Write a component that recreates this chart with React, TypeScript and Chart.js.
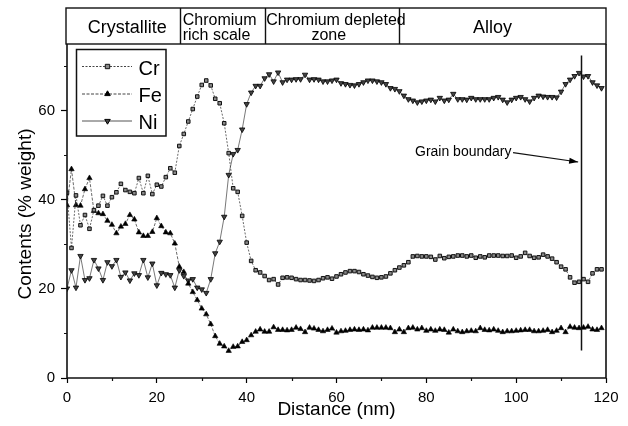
import React, { useEffect, useRef } from 'react';
import { Chart, registerables } from 'chart.js';

Chart.register(...registerables);

// ---------- data ----------
const distance: number[] = Array.from({ length: 120 }, (_, i) => i);

const cr: number[] = [
  41.6, 29.2, 41.0, 34.3, 36.6, 33.5, 37.7, 38.7, 40.9, 38.7,
  40.6, 41.7, 43.6, 42.2, 41.8, 41.5, 44.9, 41.5, 45.4, 41.3,
  43.4, 43.0, 45.1, 47.1, 46.1, 52.1, 54.8, 57.6, 60.4, 63.2,
  65.8, 66.8, 65.7, 62.7, 61.7, 57.2, 50.5, 42.6, 41.8, 36.4,
  30.4, 26.3, 24.2, 23.7, 22.9, 22.0, 22.2, 21.0, 22.5, 22.6,
  22.5, 22.2, 22.0, 22.0, 21.9, 21.8, 22.0, 22.4, 22.6, 22.3,
  22.8, 23.3, 23.7, 24.0, 24.0, 23.8, 23.3, 23.0, 22.7, 22.5,
  22.6, 22.8, 23.5, 24.2, 24.8, 25.3, 26.0, 27.3, 27.4, 27.3,
  27.3, 27.2, 26.6, 27.4, 26.9, 27.2, 27.3, 27.5, 27.5, 27.3,
  27.5, 27.0, 27.3, 27.1, 27.5, 27.5, 27.5, 27.4, 27.4, 27.5,
  27.0, 27.3, 28.1, 27.4, 27.0, 27.1, 27.7, 27.3, 26.8, 26.0,
  25.0, 24.4, 22.6, 21.4, 21.6, 22.2, 21.6, 23.5, 24.4, 24.4,
];

const fe: number[] = [
  38.8, 46.9, 38.8, 38.7, 42.4, 44.9, 37.5, 37.0, 36.8, 35.3,
  34.4, 32.5, 34.0, 34.6, 36.6, 35.6, 32.7, 31.9, 31.9, 32.8,
  35.9, 34.1, 32.7, 32.5, 30.2, 25.0, 23.8, 21.2, 19.3, 17.5,
  15.6, 14.3, 12.1, 9.4, 7.7, 7.1, 6.1, 7.0, 7.1, 8.1,
  8.5, 9.6, 10.4, 10.9, 10.4, 10.4, 11.4, 10.8, 10.8, 10.7,
  10.8, 11.3, 11.0, 10.3, 11.3, 11.1, 10.8, 10.5, 10.8, 11.1,
  10.2, 10.5, 10.6, 10.8, 10.9, 10.8, 10.9, 10.7, 11.3, 11.3,
  11.3, 11.3, 11.2, 10.3, 10.9, 10.3, 11.2, 11.3, 10.9, 11.2,
  10.6, 10.9, 10.6, 10.9, 10.8, 10.2, 10.9, 10.5, 10.3, 10.5,
  10.6, 10.5, 11.2, 10.8, 10.7, 10.9, 10.6, 10.3, 10.5, 10.5,
  10.6, 10.7, 10.8, 10.8, 10.5, 10.5, 10.6, 10.8, 10.3, 10.6,
  11.2, 10.3, 11.5, 11.3, 11.2, 11.3, 11.5, 10.9, 10.8, 11.2,
];

const ni: number[] = [
  20.1, 24.2, 20.3, 27.4, 22.0, 22.4, 26.5, 24.6, 22.0, 26.0,
  25.1, 26.5, 22.7, 23.7, 21.9, 23.5, 23.1, 26.5, 22.6, 25.7,
  20.8, 23.6, 23.3, 23.1, 20.3, 24.2, 22.9, 21.9, 22.2, 20.3,
  19.9, 19.1, 22.2, 28.0, 30.6, 36.2, 45.6, 50.3, 51.2, 55.8,
  61.5, 64.1, 65.6, 65.6, 67.3, 68.2, 66.6, 68.6, 66.4, 67.0,
  67.0, 67.1, 67.1, 68.1, 67.0, 67.1, 67.0, 66.6, 66.6, 66.8,
  67.0, 66.2, 66.0, 65.8, 65.7, 66.0, 66.4, 66.8, 66.8, 66.6,
  66.4, 66.0, 65.1, 64.9, 64.4, 63.4, 62.6, 62.3, 61.9, 62.1,
  62.3, 62.5, 62.1, 62.9, 62.3, 62.5, 63.8, 62.6, 62.6, 62.5,
  62.9, 62.6, 62.6, 62.6, 62.6, 62.9, 63.1, 62.5, 61.9, 62.5,
  62.9, 63.1, 62.6, 62.1, 62.9, 63.4, 63.2, 63.1, 63.1, 63.0,
  64.3, 66.0, 67.0, 67.8, 68.5, 67.7, 67.8, 66.4, 65.7, 65.1,
];

const xMajorTicks = [0, 20, 40, 60, 80, 100, 120];
const xMinorTicks = [10, 30, 50, 70, 90, 110];
const yMajorTicks = [0, 20, 40, 60];
const yMinorTicks = [10, 30, 50, 70];

// header regions (boundaries in nm)
const regionBounds = [25.1, 44.0, 73.9];
const regionNames = ['Crystallite', 'Chromium rich scale', 'Chromium depleted zone', 'Alloy'];

const grainBoundaryX = 114.4;
const grainBoundaryY = [6.2, 72.4];
const arrowFrom = [99.3, 50.6];
const arrowTo = [113.8, 48.5];

const FONT = '"Liberation Sans", Arial, Helvetica, sans-serif';

const decorPlugin = {
  id: 'decor',
  beforeDraw(chart: any) {
    const ctx = chart.ctx;
    ctx.save();
    ctx.fillStyle = '#fff';
    ctx.fillRect(0, 0, chart.width, chart.height);
    ctx.restore();
  },
  afterDraw(chart: any) {
    const ctx = chart.ctx as CanvasRenderingContext2D;
    const { left, right, top, bottom } = chart.chartArea;
    const xs = chart.scales.x;
    const ys = chart.scales.y;
    ctx.save();
    ctx.strokeStyle = '#111';
    ctx.fillStyle = '#000';

    // frame
    ctx.lineWidth = 1.6;
    ctx.beginPath();
    ctx.moveTo(left, top);
    ctx.lineTo(left, bottom);
    ctx.lineTo(right, bottom);
    ctx.lineTo(right, top);
    ctx.stroke();

    // minor ticks
    ctx.lineWidth = 1.2;
    ctx.beginPath();
    xMinorTicks.forEach((v) => {
      const px = Math.round(xs.getPixelForValue(v)) + 0.5;
      ctx.moveTo(px, bottom);
      ctx.lineTo(px, bottom + 3);
    });
    yMinorTicks.forEach((v) => {
      const py = Math.round(ys.getPixelForValue(v)) + 0.5;
      ctx.moveTo(left, py);
      ctx.lineTo(left - 3, py);
    });
    ctx.stroke();

    // header band
    const hTop = 8;
    ctx.lineWidth = 1.4;
    ctx.strokeRect(left - 1, hTop, right - left + 1, top - hTop);
    ctx.beginPath();
    regionBounds.forEach((v) => {
      const px = Math.round(xs.getPixelForValue(v)) + 0.5;
      ctx.moveTo(px, hTop);
      ctx.lineTo(px, top);
    });
    ctx.stroke();

    const b0 = xs.getPixelForValue(regionBounds[0]);
    const b1 = xs.getPixelForValue(regionBounds[1]);
    const b2 = xs.getPixelForValue(regionBounds[2]);

    ctx.textBaseline = 'alphabetic';
    ctx.font = `18px ${FONT}`;
    ctx.textAlign = 'center';
    ctx.fillText(regionNames[0], (left + b0) / 2 + 4, 33);
    ctx.fillText(regionNames[3], (b2 + right) / 2 - 10, 33);

    ctx.font = `16px ${FONT}`;
    ctx.textAlign = 'left';
    const rich = regionNames[1].split(' ');
    ctx.fillText(rich[0], b0 + 3, 25);
    ctx.fillText(rich.slice(1).join(' '), b0 + 3, 40);
    const dep = regionNames[2].split(' ');
    ctx.fillText(dep.slice(0, 2).join(' '), b1 + 1.5, 25);
    ctx.textAlign = 'center';
    ctx.fillText(dep[2], (b1 + b2) / 2 - 3, 40);

    // legend box
    ctx.lineWidth = 1.5;
    ctx.fillStyle = '#fff';
    ctx.fillRect(76, 49, 90, 87);
    ctx.strokeRect(76.5, 49.5, 89.5, 86.5);
    const entries = chart.data.datasets;
    const rowsY = [66.5, 94, 121];
    entries.forEach((ds: any, i: number) => {
      const y = rowsY[i];
      ctx.save();
      ctx.strokeStyle = ds.borderColor;
      ctx.lineWidth = 1;
      ctx.setLineDash(ds.borderDash || []);
      ctx.beginPath();
      ctx.moveTo(82, y);
      ctx.lineTo(132, y);
      ctx.stroke();
      ctx.restore();
      const cx = 107.5;
      ctx.save();
      ctx.fillStyle = ds.pointBackgroundColor;
      ctx.strokeStyle = ds.pointBorderColor;
      ctx.lineWidth = 1;
      ctx.beginPath();
      if (ds.pointStyle === 'rect') {
        ctx.rect(cx - 2.2, y - 2.2, 4.4, 4.4);
      } else {
        const r = 3.2;
        const dir = ds.pointRotation === 180 ? -1 : 1;
        ctx.moveTo(cx, y - dir * r);
        ctx.lineTo(cx + r * 0.866, y + dir * r * 0.5);
        ctx.lineTo(cx - r * 0.866, y + dir * r * 0.5);
        ctx.closePath();
      }
      ctx.fill();
      ctx.stroke();
      ctx.restore();
      ctx.fillStyle = '#000';
      ctx.font = `20px ${FONT}`;
      ctx.textAlign = 'left';
      ctx.fillText(ds.label, 138.5, y + 8);
    });

    // grain boundary line
    ctx.strokeStyle = '#111';
    ctx.lineWidth = 1.5;
    const gx = Math.round(xs.getPixelForValue(grainBoundaryX)) + 0.5;
    ctx.beginPath();
    ctx.moveTo(gx, ys.getPixelForValue(grainBoundaryY[1]));
    ctx.lineTo(gx, ys.getPixelForValue(grainBoundaryY[0]));
    ctx.stroke();

    // arrow
    const ax0 = xs.getPixelForValue(arrowFrom[0]);
    const ay0 = ys.getPixelForValue(arrowFrom[1]);
    const ax1 = xs.getPixelForValue(arrowTo[0]);
    const ay1 = ys.getPixelForValue(arrowTo[1]);
    ctx.lineWidth = 1.1;
    ctx.beginPath();
    ctx.moveTo(ax0, ay0);
    ctx.lineTo(ax1, ay1);
    ctx.stroke();
    const ang = Math.atan2(ay1 - ay0, ax1 - ax0);
    const L = 9, W = 3;
    ctx.beginPath();
    ctx.moveTo(ax1, ay1);
    ctx.lineTo(ax1 - L * Math.cos(ang) + W * Math.sin(ang), ay1 - L * Math.sin(ang) - W * Math.cos(ang));
    ctx.lineTo(ax1 - L * Math.cos(ang) - W * Math.sin(ang), ay1 - L * Math.sin(ang) + W * Math.cos(ang));
    ctx.closePath();
    ctx.fillStyle = '#000';
    ctx.fill();

    ctx.font = `14px ${FONT}`;
    ctx.textAlign = 'left';
    ctx.textBaseline = 'middle';
    ctx.fillText('Grain boundary', 415, 152);

    // axis titles
    ctx.font = `19px ${FONT}`;
    ctx.textAlign = 'center';
    ctx.textBaseline = 'middle';
    ctx.fillText('Distance (nm)', (left + right) / 2, 410);
    ctx.save();
    ctx.translate(26, (top + bottom) / 2 + 3);
    ctx.rotate(-Math.PI / 2);
    ctx.fillText('Contents (% weight)', 0, 0);
    ctx.restore();

    ctx.restore();
  },
};

export default function App() {
  const ref = useRef<HTMLCanvasElement | null>(null);

  useEffect(() => {
    if (!ref.current) return;
    const mk = (arr: number[]) => distance.map((x, i) => ({ x, y: arr[i] }));
    const chart = new Chart(ref.current, {
      type: 'line',
      data: {
        datasets: [
          {
            label: 'Cr',
            data: mk(cr),
            borderColor: '#444',
            borderWidth: 0.8,
            borderDash: [2, 1.5],
            pointStyle: 'rect',
            pointRadius: 2.5,
            pointBackgroundColor: '#8a8a8a',
            pointBorderColor: '#111',
            pointBorderWidth: 1,
          } as any,
          {
            label: 'Fe',
            data: mk(fe),
            borderColor: '#444',
            borderWidth: 0.8,
            borderDash: [3, 1.5],
            pointStyle: 'triangle',
            pointRadius: 3.1,
            pointBackgroundColor: '#000',
            pointBorderColor: '#000',
            pointBorderWidth: 0.6,
          } as any,
          {
            label: 'Ni',
            data: mk(ni),
            borderColor: '#555',
            borderWidth: 0.8,
            pointStyle: 'triangle',
            pointRotation: 180,
            pointRadius: 3.1,
            pointBackgroundColor: '#444',
            pointBorderColor: '#000',
            pointBorderWidth: 0.8,
          } as any,
        ],
      },
      options: {
        responsive: false,
        animation: false,
        devicePixelRatio: 1,
        layout: { padding: { left: 0, top: 44, right: 22, bottom: 0 } },
        plugins: { legend: { display: false }, tooltip: { enabled: false } },
        elements: { line: { tension: 0 } },
        scales: {
          x: {
            type: 'linear',
            min: 0,
            max: 120,
            afterFit: (s: any) => { s.height = 48; },
            afterBuildTicks: (s: any) => { s.ticks = xMajorTicks.map((v) => ({ value: v })); },
            ticks: { font: { family: FONT, size: 15 }, color: '#000', padding: 6, maxRotation: 0, autoSkip: false },
            grid: { display: true, drawOnChartArea: false, drawTicks: true, tickLength: 5, tickColor: '#000', tickWidth: 1.2, color: '#000' },
            border: { display: false },
          },
          y: {
            type: 'linear',
            min: 0,
            max: 75,
            afterFit: (s: any) => { s.width = 67; },
            afterBuildTicks: (s: any) => { s.ticks = yMajorTicks.map((v) => ({ value: v })); },
            ticks: { font: { family: FONT, size: 15 }, color: '#000', padding: 6, autoSkip: false },
            grid: { display: true, drawOnChartArea: false, drawTicks: true, tickLength: 6, tickColor: '#000', tickWidth: 1.2, color: '#000' },
            border: { display: false },
          },
        },
      } as any,
      plugins: [decorPlugin],
    });
    return () => chart.destroy();
  }, []);

  return (
    <div style={{ position: 'absolute', left: 0, top: 0, width: 628, height: 426, background: '#fff' }}>
      <canvas ref={ref} width={628} height={426} style={{ display: 'block', width: 628, height: 426 }} />
    </div>
  );
}
